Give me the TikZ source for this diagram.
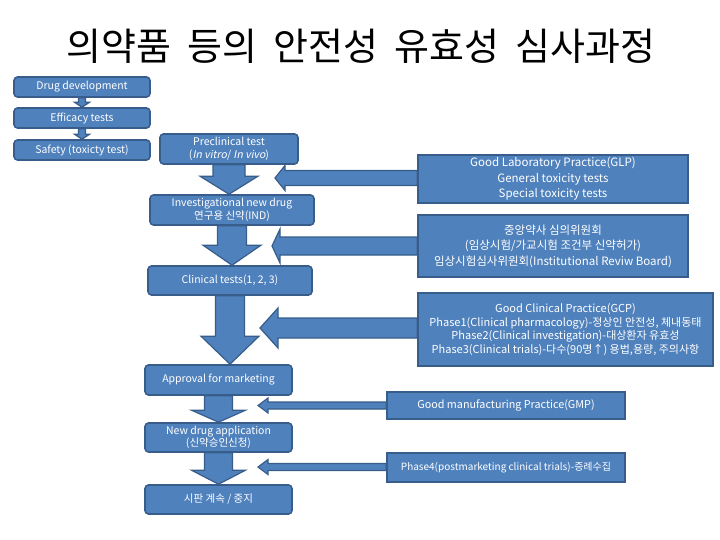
\documentclass[tikz,border=0pt]{standalone}
\usepackage{fontspec}
\setmainfont{Noto Sans CJK KR}[AutoFakeSlant=0.2]
\usetikzlibrary{calc}

\definecolor{boxblue}{HTML}{4F81BD}
\definecolor{boxline}{HTML}{385D8A}

\tikzset{
    leftbox/.style={draw=boxline,fill=boxblue,line width=1.6pt,rounded corners=3.5pt,
        text=white,align=center,inner sep=0pt,font=\fontsize{10.5}{12.5}\selectfont},
    rightbox/.style={draw=boxline,fill=boxblue,line width=1.6pt,
        text=white,align=center,inner sep=0pt,font=\fontsize{11.5}{15.5}\selectfont},
    blk/.style={draw=boxline,fill=boxblue,line width=1.2pt,line join=miter}
}

% down block arrow: from, to, shaft half width, head half width, head length
\newcommand{\downblk}[5]{%
    \draw[blk] let \p1=(#1.south), \p2=(#2.north) in
        (\x1-#3,\y1) -- (\x1-#3,\y2+#5) -- (\x1-#4,\y2+#5) -- (\x1,\y2)
        -- (\x1+#4,\y2+#5) -- (\x1+#3,\y2+#5) -- (\x1+#3,\y1) -- cycle;}
% left block arrow: from box, tip, shaft half width, head half width, head length
\newcommand{\leftblk}[5]{%
    \draw[blk] let \p1=(#1.west), \p2=(#2) in
        (\x1,\y2+#3) -- (\x2+#5,\y2+#3) -- (\x2+#5,\y2+#4) -- (\x2,\y2)
        -- (\x2+#5,\y2-#4) -- (\x2+#5,\y2-#3) -- (\x1,\y2-#3) -- cycle;}

\begin{document}
\begin{tikzpicture}[x=1pt,y=-1pt]

    \useasboundingbox (0,0) rectangle (720,540);

    \node (title) at (361,46) {\fontsize{38}{40}\selectfont 의약품\hspace{0.2em} 등의\hspace{0.2em} 안전성\hspace{0.2em} 유효성\hspace{0.2em} 심사과정};

    %left column
    \node[leftbox,minimum width=136pt,minimum height=20pt] (dev) at (82,87) {Drug development};
    \node[leftbox,minimum width=136pt,minimum height=20pt] (eff) at (82,118) {Efficacy tests};
    \node[leftbox,minimum width=136pt,minimum height=20pt] (saf) at (82,150) {Safety (toxicty test)};

    %main flow
    \node[leftbox,minimum width=138pt,minimum height=30pt] (pre) at (229,149) {Preclinical test\\(\textit{In vitro}/ \textit{In vivo})};
    \node[leftbox,minimum width=164pt,minimum height=30pt] (ind) at (232,210) {Investigational new drug\\연구용 신약(IND)};
    \node[leftbox,minimum width=164pt,minimum height=29pt] (clin) at (230,280.5) {Clinical tests(1, 2, 3)};
    \node[leftbox,minimum width=147pt,minimum height=30pt] (appr) at (218.5,380) {Approval for marketing};
    \node[leftbox,minimum width=147pt,minimum height=29pt] (nda) at (218.5,437.5) {New drug application\\(신약승인신청)};
    \node[leftbox,minimum width=147pt,minimum height=29pt] (stop) at (218.5,499.5) {시판 계속 / 중지};

    %right column
    \node[rightbox,minimum width=270pt,minimum height=48pt] (glp) at (553,179) {Good Laboratory Practice(GLP)\\General toxicity tests\\Special toxicity tests};
    \node[rightbox,minimum width=270pt,minimum height=62pt] (ksc) at (553,246) {중앙약사 심의위원회\\(임상시험/가교시험 조건부 신약허가)\\임상시험심사위원회(Institutional Reviw Board)};
    \node[rightbox,minimum width=295pt,minimum height=73pt,font=\fontsize{11}{13.8}\selectfont] (gcp) at (565.5,329.5) {Good Clinical Practice(GCP)\\Phase1(Clinical pharmacology)-정상인 안전성, 체내동태\\Phase2(Clinical investigation)-대상환자 유효성\\Phase3(Clinical trials)-다수(90명↑) 용법,용량, 주의사항};
    \node[rightbox,minimum width=238pt,minimum height=27pt,font=\fontsize{10.8}{13}\selectfont] (gmp) at (506,405.5) {Good manufacturing Practice(GMP)};
    \node[rightbox,minimum width=238pt,minimum height=29pt,font=\fontsize{10}{12}\selectfont] (ph4) at (506,467.5) {Phase4(postmarketing clinical trials)-증례수집};

    %arrow tips
    \coordinate (glptip) at (275,178);
    \coordinate (ksctip) at (272,246);
    \coordinate (gcptip) at (260,328);
    \coordinate (gmptip) at (258,405.5);
    \coordinate (ph4tip) at (258,467);

    %block arrows
    \downblk{dev}{eff}{3.5pt}{7.5pt}{5pt}
    \downblk{eff}{saf}{3.5pt}{7.5pt}{5pt}
    \downblk{pre}{ind}{16pt}{29pt}{18pt}
    \downblk{ind}{clin}{14.5pt}{29pt}{20pt}
    \downblk{clin}{appr}{14.5pt}{29pt}{28pt}
    \downblk{appr}{nda}{14pt}{27pt}{12pt}
    \downblk{nda}{stop}{14pt}{27pt}{14pt}

    \leftblk{glp}{glptip}{7.5pt}{12.5pt}{10pt}
    \leftblk{ksc}{ksctip}{9pt}{17pt}{8pt}
    \leftblk{gcp}{gcptip}{10pt}{20pt}{18pt}
    \leftblk{gmp}{gmptip}{3.5pt}{7.5pt}{10pt}
    \leftblk{ph4}{ph4tip}{3.5pt}{7.5pt}{10pt}

\end{tikzpicture}
\end{document}
